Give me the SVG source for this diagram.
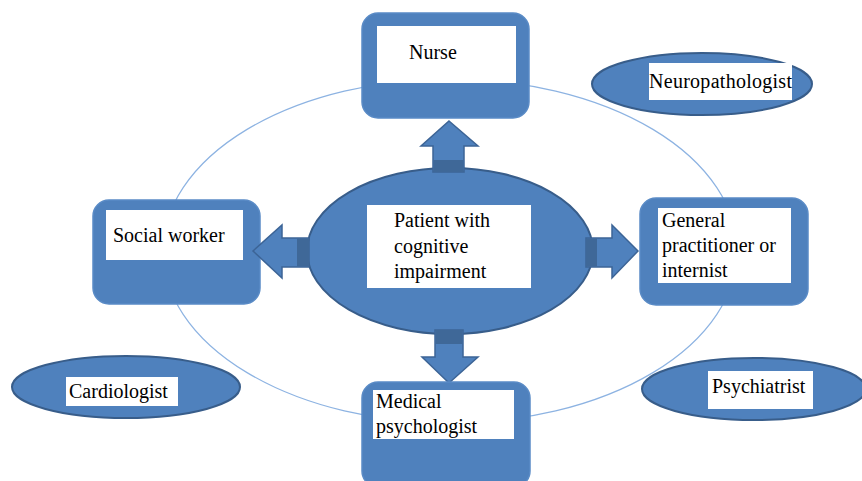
<svg xmlns="http://www.w3.org/2000/svg" width="862" height="481" viewBox="0 0 862 481">
<style>
.box{fill:#4F81BD;stroke:#5A8BC6;stroke-width:1.5}
.ell{fill:#4F81BD;stroke:#385D8A;stroke-width:2}
.lbl{fill:#FFFFFF}
.arr{fill:#4F81BD;stroke:#3C6496;stroke-width:1.5}
.dk{fill:#3F6898}
text{font-family:"Liberation Serif","Times New Roman",serif;font-size:20px;fill:#000}
.ring{fill:none;stroke:#8DB3E2;stroke-width:1.2}
</style>
<rect width="862" height="481" fill="#FFFFFF"/>
<g id="connectors">
<ellipse class="ring" cx="450" cy="251" rx="287" ry="172"/>
</g>
<g id="nurse">
<rect class="box" x="362" y="13" width="167" height="105" rx="16"/>
<rect class="lbl" x="377" y="26" width="139" height="57"/>
<text x="409" y="59">Nurse</text>
</g>
<g id="neuropathologist">
<ellipse class="ell" cx="702" cy="84" rx="110" ry="31"/>
<rect class="lbl" x="649" y="63" width="143" height="37"/>
<text x="649" y="88" textLength="143">Neuropathologist</text>
</g>
<g id="social-worker">
<rect class="box" x="93" y="200" width="167" height="104" rx="16"/>
<rect class="lbl" x="106" y="210" width="137" height="50"/>
<text x="113" y="242">Social worker</text>
</g>
<g id="general-practitioner">
<rect class="box" x="640" y="198" width="168" height="107" rx="16"/>
<rect class="lbl" x="658" y="208" width="133" height="75"/>
<text x="662" y="227">General</text>
<text x="662" y="252">practitioner or</text>
<text x="662" y="277">internist</text>
</g>
<g id="patient">
<ellipse class="ell" cx="450" cy="251" rx="143" ry="83"/>
<rect class="lbl" x="367" y="205" width="164" height="83"/>
<text x="394" y="227">Patient with</text>
<text x="394" y="253">cognitive</text>
<text x="394" y="278">impairment</text>
</g>
<g id="arrows">
<polygon class="arr" points="449,121 478,146 464,146 464,172 433,172 433,146 421,146"/>
<rect class="dk" x="433.5" y="160" width="30" height="12"/>
<polygon class="arr" points="253,251 282,225 282,238 309,238 309,267 282,267 282,278"/>
<rect class="dk" x="297" y="238.5" width="12" height="28"/>
<polygon class="arr" points="638,251 612,225 612,238 586,238 586,267 612,267 612,278"/>
<rect class="dk" x="586" y="238.5" width="11" height="28"/>
<polygon class="arr" points="449,383 478,357 463,357 463,330 435,330 435,357 422,357"/>
<rect class="dk" x="435.5" y="330" width="27" height="14"/>
</g>
<g id="medical-psychologist">
<rect class="box" x="362" y="382" width="168" height="105" rx="16"/>
<rect class="lbl" x="373" y="390" width="141" height="49"/>
<text x="376" y="408">Medical</text>
<text x="376" y="433">psychologist</text>
</g>
<g id="cardiologist">
<ellipse class="ell" cx="126" cy="387" rx="114" ry="31"/>
<rect class="lbl" x="66" y="377" width="112" height="29"/>
<text x="69" y="398">Cardiologist</text>
</g>
<g id="psychiatrist">
<ellipse class="ell" cx="754" cy="389" rx="112" ry="31"/>
<rect class="lbl" x="708" y="371" width="105" height="38"/>
<text x="712" y="393">Psychiatrist</text>
</g>
</svg>
